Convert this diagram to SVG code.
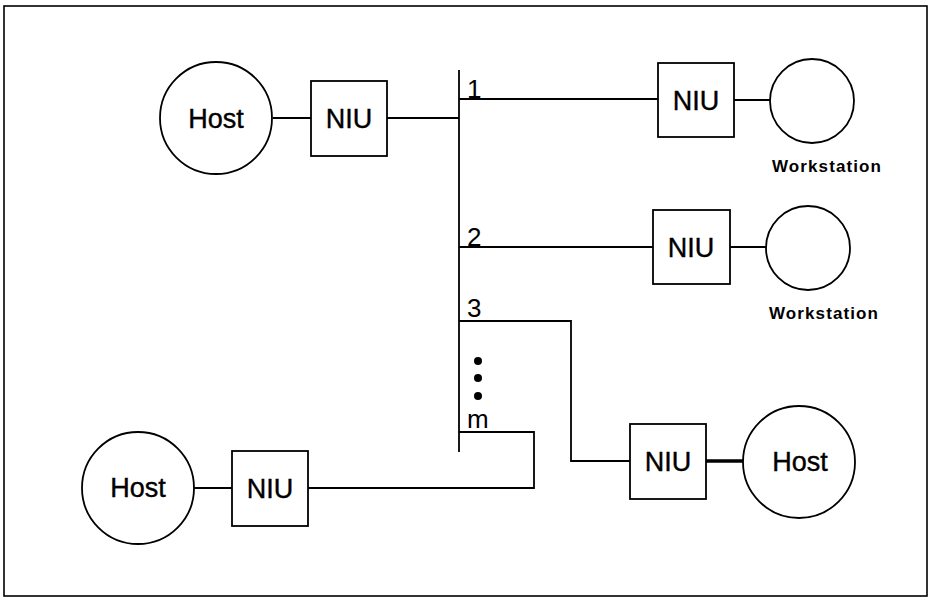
<svg xmlns="http://www.w3.org/2000/svg" width="931" height="599" viewBox="0 0 931 599">
<style>
.ln{fill:none;stroke:#000;stroke-width:1.8}
.shape{fill:#fff;stroke:#000;stroke-width:1.8}
.big{font-family:"Liberation Sans",Arial,sans-serif;font-size:27px;fill:#000;stroke:#000;stroke-width:0.4;text-anchor:middle}
.ws{font-family:"Liberation Sans",Arial,sans-serif;font-size:17px;font-weight:bold;letter-spacing:1.1px;fill:#000;text-anchor:middle}
.num{font-family:"Liberation Sans",Arial,sans-serif;font-size:26px;fill:#000}
</style>
<rect x="0" y="0" width="931" height="599" fill="#fff"/>
<rect x="4" y="6" width="923" height="590" fill="none" stroke="#000" stroke-width="1.6"/>
<g id="connectors">
<line class="ln" x1="459" y1="70" x2="459" y2="452"/>
<line class="ln" x1="273" y1="118" x2="311" y2="118"/>
<line class="ln" x1="387" y1="118" x2="459" y2="118"/>
<line class="ln" x1="459" y1="99" x2="658" y2="99"/>
<line class="ln" x1="734" y1="100" x2="770" y2="100"/>
<line class="ln" x1="459" y1="247" x2="653" y2="247"/>
<line class="ln" x1="730" y1="247" x2="766" y2="247"/>
<polyline class="ln" points="459,321 571,321 571,461 630,461"/>
<line x1="706" y1="461" x2="743" y2="461" stroke="#000" stroke-width="3.5"/>
<polyline class="ln" points="459,432 534,432 534,488 308,488"/>
<line class="ln" x1="194" y1="488" x2="232" y2="488"/>
</g>
<g id="labels">
<text class="num" x="467" y="98">1</text>
<text class="num" x="467" y="246">2</text>
<text class="num" x="467" y="317">3</text>
<circle cx="478" cy="361" r="4"/>
<circle cx="478" cy="378" r="4"/>
<circle cx="478" cy="396" r="4"/>
<text class="num" x="467" y="428">m</text>
</g>
<g id="host1">
<circle class="shape" cx="216" cy="118" r="56"/>
<text class="big" x="216" y="128">Host</text>
</g>
<g id="niu1">
<rect class="shape" x="311" y="81" width="76" height="75"/>
<text class="big" x="349" y="128">NIU</text>
</g>
<g id="niu2">
<rect class="shape" x="658" y="63" width="76" height="74"/>
<text class="big" x="696" y="110">NIU</text>
</g>
<g id="ws1">
<circle class="shape" cx="812" cy="101" r="42"/>
<text class="ws" x="827" y="172">Workstation</text>
</g>
<g id="niu3">
<rect class="shape" x="653" y="210" width="77" height="74"/>
<text class="big" x="691" y="257">NIU</text>
</g>
<g id="ws2">
<circle class="shape" cx="808" cy="248" r="42"/>
<text class="ws" x="824" y="319">Workstation</text>
</g>
<g id="niu4">
<rect class="shape" x="630" y="424" width="76" height="75"/>
<text class="big" x="668" y="471">NIU</text>
</g>
<g id="host2">
<circle class="shape" cx="799" cy="462" r="56"/>
<text class="big" x="800" y="471">Host</text>
</g>
<g id="niu5">
<rect class="shape" x="232" y="451" width="76" height="75"/>
<text class="big" x="270" y="498">NIU</text>
</g>
<g id="host3">
<circle class="shape" cx="138" cy="488" r="56"/>
<text class="big" x="138" y="497">Host</text>
</g>
</svg>
